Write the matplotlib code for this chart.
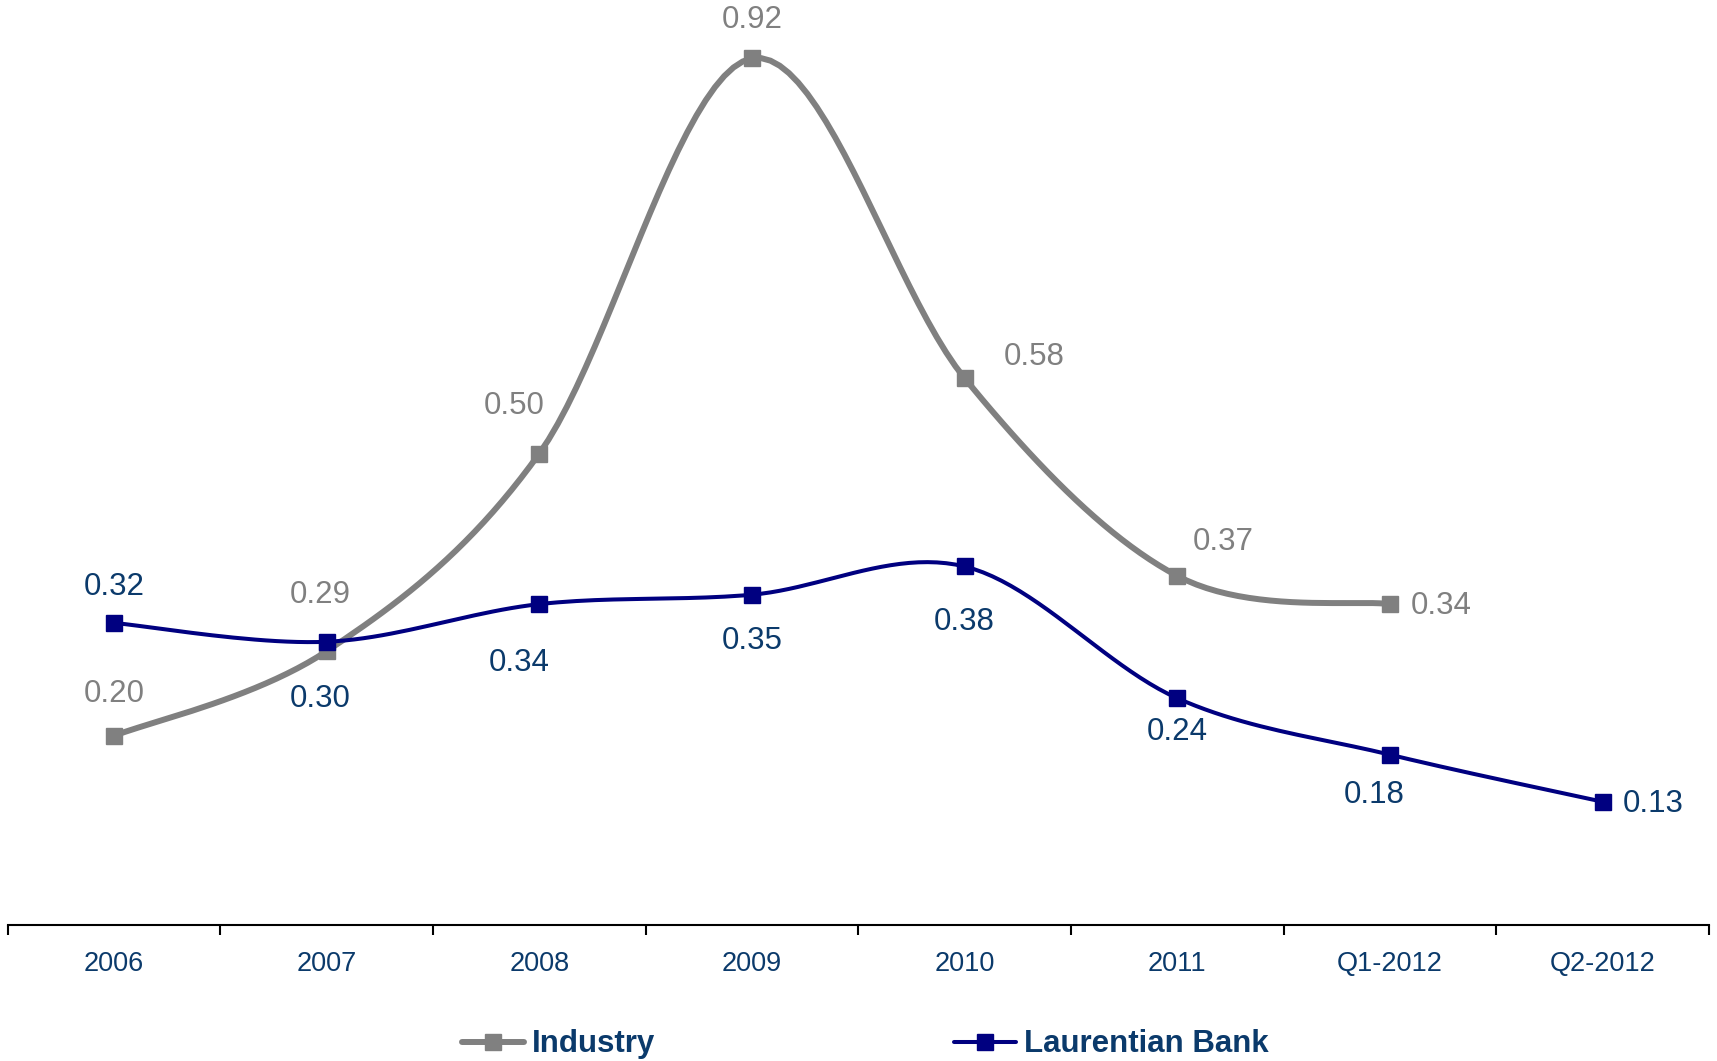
import matplotlib.pyplot as plt
import numpy as np
from matplotlib.lines import Line2D

plt.rcParams['font.family'] = ['Liberation Sans', 'DejaVu Sans']

periods = ["2006", "2007", "2008", "2009", "2010", "2011", "Q1-2012", "Q2-2012"]
industry = [0.20, 0.29, 0.50, 0.92, 0.58, 0.37, 0.34]
laurentian = [0.32, 0.30, 0.34, 0.35, 0.38, 0.24, 0.18, 0.13]

GRAY = "#808080"
NAVY = "#000080"
TEXT = "#0B3A6B"

# label placement (pixel offsets from each point, and alignment)
ind_offsets = [(0, 42), (-6, 56), (-25, 48), (0, 38), (70, 21), (46, 34), (21, -2)]
ind_align = ["center"] * 6 + ["left"]
lb_offsets = [(0, 36), (-6, -57), (-20, -59), (0, -46), (0, -56), (0, -34), (-16, -40), (20, -2)]
lb_align = ["center"] * 7 + ["left"]


def smooth(ys, n=24):
    # Bezier smoothing through the points, Catmull-Rom style control points
    xs = np.arange(len(ys), dtype=float)
    pts = np.column_stack([xs, ys])
    out = [pts[0]]
    for i in range(len(pts) - 1):
        p0 = pts[i - 1] if i > 0 else pts[i]
        p1 = pts[i]
        p2 = pts[i + 1]
        p3 = pts[i + 2] if i + 2 < len(pts) else pts[i + 1]
        c1 = p1 + (p2 - p0) / 6.0
        c2 = p2 - (p3 - p1) / 6.0
        t = np.linspace(0, 1, n)[1:, None]
        seg = ((1 - t) ** 3) * p1 + 3 * ((1 - t) ** 2) * t * c1 + 3 * (1 - t) * t ** 2 * c2 + t ** 3 * p2
        out.extend(seg)
    out = np.array(out)
    return out[:, 0], out[:, 1]


fig = plt.figure(figsize=(17.17, 10.61), dpi=100)
ax = fig.add_axes([7.6 / 1717, (1061 - 925) / 1061, (1709 - 7.6) / 1717, 925 / 1061])

sx, sy = smooth(industry)
ax.plot(sx, sy, color=GRAY, lw=4.3, solid_capstyle="round", zorder=2)
ax.plot(range(len(industry)), industry, ls="none", marker="s", ms=11.5, color=GRAY, zorder=3)

sx, sy = smooth(laurentian)
ax.plot(sx, sy, color=NAVY, lw=2.9, solid_capstyle="round", zorder=4)
ax.plot(range(len(laurentian)), laurentian, ls="none", marker="s", ms=11.5, color=NAVY, zorder=5)

for i, v in enumerate(industry):
    dx, dy = ind_offsets[i]
    ax.annotate(f"{v:.2f}", xy=(i, v), xytext=(dx, dy), textcoords="offset pixels",
                ha=ind_align[i], va="center", fontsize=22.5, color=GRAY)

for i, v in enumerate(laurentian):
    dx, dy = lb_offsets[i]
    ax.annotate(f"{v:.2f}", xy=(i, v), xytext=(dx, dy), textcoords="offset pixels",
                ha=lb_align[i], va="center", fontsize=22.5, color=TEXT)

ax.set_xlim(-0.5, len(periods) - 0.5)
ax.set_ylim(-0.001, 0.982)
ax.set_xticks(np.arange(-0.5, len(periods)))
ax.set_xticklabels([])
ax.set_xticks(range(len(periods)), minor=True)
ax.set_xticklabels(periods, minor=True, fontsize=19.5, color=TEXT)
ax.tick_params(axis="x", which="major", direction="out", length=7, width=1.5, color="black")
ax.tick_params(axis="x", which="minor", length=0, pad=19)
ax.set_yticks([])
for side in ["left", "right", "top"]:
    ax.spines[side].set_visible(False)
ax.spines["bottom"].set_linewidth(1.5)
ax.patch.set_alpha(0)

handles = [
    Line2D([], [], color=GRAY, lw=4.3, marker="s", ms=11.5, solid_capstyle="round"),
    Line2D([], [], color=NAVY, lw=2.9, marker="s", ms=11.5, solid_capstyle="round"),
]
leg = fig.legend(handles, ["Industry", "Laurentian Bank"], loc="center",
                 bbox_to_anchor=(0.504, 0.0156), ncol=2, frameon=False,
                 handlelength=2.0, handletextpad=0.25, columnspacing=9.55,
                 prop={"size": 22.5, "weight": "bold"})
for t in leg.get_texts():
    t.set_color(TEXT)

fig.savefig("out.png", dpi=100)
